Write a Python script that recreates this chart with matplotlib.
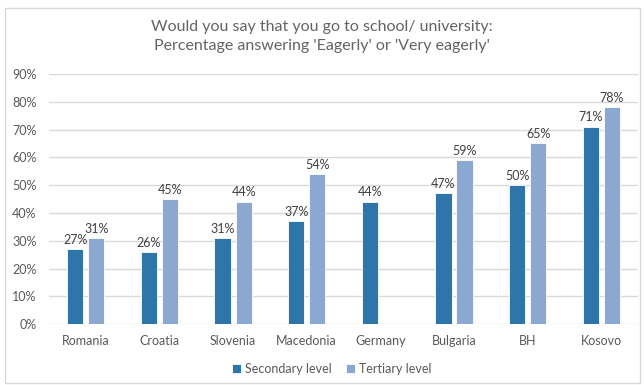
import numpy as np
import matplotlib.pyplot as plt
from matplotlib.patches import Rectangle

countries = ['Romania', 'Croatia', 'Slovenia', 'Macedonia', 'Germany', 'Bulgaria', 'BH', 'Kosovo']
secondary = [27, 26, 31, 37, 44, 47, 50, 71]
tertiary = [31, 45, 44, 54, None, 59, 65, 78]

sec_color = '#2E75AA'
ter_color = '#8AA8D0'
text_color = '#595959'

plt.rcParams['font.family'] = ['Lato', 'DejaVu Sans']

fig = plt.figure(figsize=(6.44, 3.85), dpi=100)
ax = fig.add_axes([0.076, 0.158, 0.915, 0.65])

# light frame round the whole chart
fig.patches.append(Rectangle((0.008, 0.005), 0.986, 0.975, transform=fig.transFigure,
                             fill=False, edgecolor='#D9D9D9', linewidth=1))

x = np.arange(len(countries))
w = 0.22
off = 0.143

sec_vals = np.array(secondary, dtype=float)
ter_vals = np.array([np.nan if v is None else v for v in tertiary], dtype=float)

ax.bar(x - off, sec_vals, w, color=sec_color, edgecolor='white', linewidth=0.6,
       label='Secondary level', zorder=3)
ax.bar(x + off, ter_vals, w, color=ter_color, edgecolor='white', linewidth=0.6,
       label='Tertiary level', zorder=3)

for xi, v in zip(x, sec_vals):
    ax.text(xi - off, v + 1.2, f'{int(v)}%', ha='center', va='bottom',
            fontsize=9, color='#404040')
for xi, v in zip(x, ter_vals):
    if not np.isnan(v):
        ax.text(xi + off, v + 1.2, f'{int(v)}%', ha='center', va='bottom',
                fontsize=9, color='#404040')

ax.set_ylim(0, 90)
ax.set_xlim(-0.5, len(countries) - 0.5)
ax.set_yticks(range(0, 91, 10))
ax.set_yticklabels([f'{t}%' for t in range(0, 91, 10)])
ax.set_xticks(x)
ax.set_xticklabels(countries)
ax.tick_params(axis='both', length=0, labelsize=9, colors=text_color)
ax.tick_params(axis='y', pad=9)
ax.tick_params(axis='x', pad=8)
ax.yaxis.grid(True, color='#D9D9D9', linewidth=1, zorder=0)
ax.set_axisbelow(True)
for s in ax.spines.values():
    s.set_visible(False)

fig.text(0.5, 0.905, "Would you say that you go to school/ university:\n"
         "Percentage answering 'Eagerly' or 'Very eagerly'",
         ha='center', va='center', fontsize=11.5, color='#636363',
         linespacing=1.45)

fig.legend(loc='center', bbox_to_anchor=(0.515, 0.042), ncol=2, frameon=False,
           fontsize=9, labelcolor=text_color, handlelength=0.7, handleheight=0.7,
           handletextpad=0.3, columnspacing=1.2)

fig.savefig('out.png', dpi=100)
